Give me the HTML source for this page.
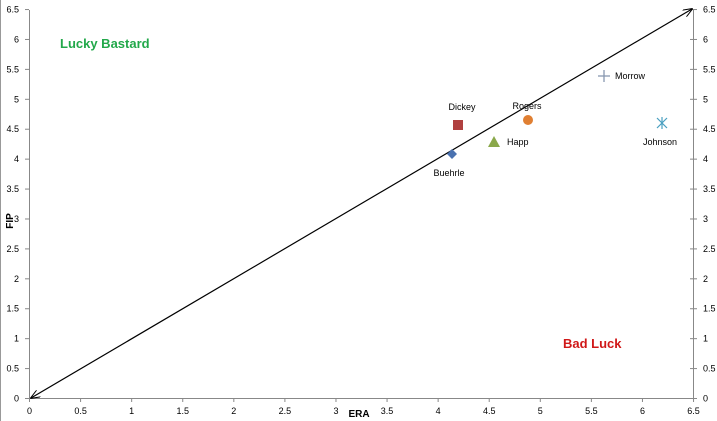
<!DOCTYPE html><html><head><style>body{margin:0;background:#fff}svg{display:block}text{font-family:"Liberation Sans",sans-serif}</style></head><body>
<svg width="717" height="421" xmlns="http://www.w3.org/2000/svg">
<rect x="0" y="0" width="717" height="421" fill="#fff"/>
<line x1="0.5" y1="0" x2="0.5" y2="421" stroke="#999"/>
<g stroke="#888" stroke-width="1">
<line x1="29.5" y1="10" x2="29.5" y2="399"/>
<line x1="693.5" y1="10" x2="693.5" y2="399"/>
<line x1="29" y1="398.5" x2="693" y2="398.5"/>
</g>
<g id="t" stroke="#888"></g>
<defs><marker id="a" markerWidth="10" markerHeight="8" refX="9" refY="4" orient="auto-start-reverse" markerUnits="userSpaceOnUse"><path d="M0,0 L10,4 L0,8" fill="none" stroke="#000" stroke-width="1"/></marker></defs>
<line x1="31" y1="398" x2="692" y2="9" stroke="#000" stroke-width="1.2" marker-start="url(#a)" marker-end="url(#a)"/>
<g font-size="9" fill="#000">
<g text-anchor="end" id="yl"></g><g id="yr"></g><g text-anchor="middle" id="xl"></g>
</g>
<rect x="453" y="120" width="10" height="10" fill="#b0403f"/>
<circle cx="528" cy="120" r="5" fill="#e07f32"/>
<polygon points="494,136 500,147 488,147" fill="#8aa84a"/>
<polygon points="452,149 457,154 452,159 447,154" fill="#4a72b0"/>
<g stroke="#8898b0" stroke-width="1.3"><line x1="598" y1="76" x2="610" y2="76"/><line x1="604" y1="70" x2="604" y2="82"/></g>
<g stroke="#4aa0c0" stroke-width="1.2"><line x1="657" y1="118" x2="667" y2="128"/><line x1="667" y1="118" x2="657" y2="128"/><line x1="662" y1="117" x2="662" y2="129"/></g>
<g font-size="9" fill="#000">
<text x="462" y="110" text-anchor="middle">Dickey</text>
<text x="527" y="109" text-anchor="middle">Rogers</text>
<text x="507" y="145">Happ</text>
<text x="449" y="176" text-anchor="middle">Buehrle</text>
<text x="615" y="79">Morrow</text>
<text x="660" y="145" text-anchor="middle">Johnson</text>
</g>
<text x="60" y="48" font-size="13" font-weight="bold" fill="#22a84a">Lucky Bastard</text>
<text x="563" y="348" font-size="13" font-weight="bold" fill="#d01818">Bad Luck</text>
<text x="359" y="417" font-size="10" font-weight="bold" text-anchor="middle">ERA</text>
<text x="13" y="221" font-size="10" font-weight="bold" text-anchor="middle" transform="rotate(-90 13 221)">FIP</text>
<script>
var ns="http://www.w3.org/2000/svg";function el(p,n,a,t){var e=document.createElementNS(ns,n);for(var k in a)e.setAttribute(k,a[k]);if(t!=null)e.textContent=t;document.getElementById(p).appendChild(e);}
for(var i=0;i<=13;i++){var v=i*0.5,lab=String(v);var y=398.5-i*29.92,x=29.5+i*51.08;
el("t","line",{x1:25,y1:y,x2:29,y2:y});el("t","line",{x1:690,y1:y,x2:697,y2:y});el("t","line",{x1:x,y1:398,x2:x,y2:402});
el("yl","text",{x:19,y:y+3},lab);el("yr","text",{x:703,y:y+3},lab);el("xl","text",{x:x,y:414},lab);}
</script>
</svg></body></html>
